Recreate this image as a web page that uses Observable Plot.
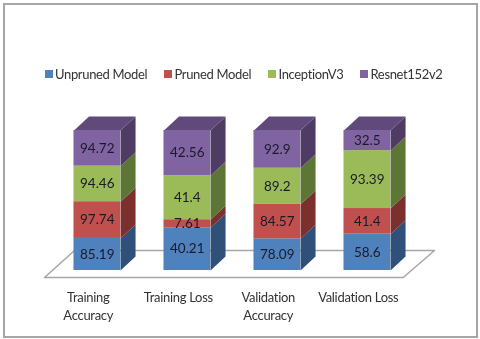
<!DOCTYPE html>
<html><head><meta charset="utf-8">
<script src="https://cdn.jsdelivr.net/npm/d3@7"></script>
<script src="https://cdn.jsdelivr.net/npm/@observablehq/plot@0.6"></script>
<style>
html,body{margin:0;padding:0;background:#fff}
#wrap{position:relative;width:480px;height:339px;overflow:hidden;filter:blur(0.45px)}
#frame{position:absolute;left:3px;top:3px;width:471px;height:331px;border:2px solid #a6a6a6;box-sizing:content-box;pointer-events:none}
#legend{position:absolute;left:0;top:64px;width:480px;height:20px;font:13px Lato,sans-serif;letter-spacing:-0.35px;color:#333}
#legend span{position:absolute;white-space:nowrap;line-height:20px}
#legend i{position:absolute;width:8px;height:8px;top:6px}
svg{display:block}
.cat text{letter-spacing:-0.3px}
</style></head><body>
<div id="wrap"><div id="chart"></div><div id="legend"></div><div id="frame"></div></div>
<script>
const categories = ["Training\nAccuracy","Training Loss","Validation\nAccuracy","Validation Loss"];
const series = ["Unpruned Model","Pruned Model","InceptionV3","Resnet152v2"];
const unpruned = [85.19,40.21,78.09,58.6];
const pruned = [97.74,7.61,84.57,41.4];
const inception = [94.46,41.4,89.2,93.39];
const resnet = [94.72,42.56,92.9,32.5];
const frontColors = ["#4f81bd","#c0504d","#9bbb59","#8064a2"];
const sideColors = ["#2f5078","#7b302e","#5d7535","#4e3c64"];
const topColors = ["#3d669a","#9b3f3c","#7d974a","#604a7b"];
const legendX = [44.5,164,268,360];

const values = [unpruned,pruned,inception,resnet];
const barW = 0.517, depthX = 0.167, depthY = 10;
const rects = [], polys = [], labels = [];
categories.forEach((c,i)=>{
  const total = d3.sum(values,v=>v[i]);
  let acc = 0;
  const left = i + (1-barW)/2, right = left + barW;
  values.forEach((v,s)=>{
    const y1 = acc/total*100; acc += v[i]; const y2 = acc/total*100;
    rects.push({x1:left,x2:right,y1,y2,fill:frontColors[s]});
    labels.push({x:(left+right)/2,y:(y1+y2)/2,text:String(v[i])});
    const id = `s${i}-${s}`;
    [[right,y1],[right+depthX,y1+depthY],[right+depthX,y2+depthY],[right,y2]]
      .forEach(([x,y])=>polys.push({id,x,y,fill:sideColors[s]}));
    if(s===values.length-1){
      const t = `t${i}`;
      [[left,y2],[right,y2],[right+depthX,y2+depthY],[left+depthX,y2+depthY]]
        .forEach(([x,y])=>polys.push({id:t,x,y,fill:topColors[s]}));
    }
  });
});
const floor = [[-0.086,-5],[3.9,-5],[4.247,14.3],[0.247,14.3]].map(([x,y])=>({x,y}));
const catLabels = categories.map((c,i)=>({x:i+0.5,y:-13,text:c}));

const chart = Plot.plot({
  width:480,height:339,margin:0,
  style:{background:"transparent"},
  x:{type:"linear",domain:[0,4],range:[51.75,411.75],axis:null},
  y:{type:"linear",domain:[0,100],range:[270,130],axis:null},
  marks:[
    Plot.line(floor,{x:"x",y:"y",curve:"linear-closed",stroke:"#a6a6a6",strokeWidth:1.5,fill:"#fff"}),
    Plot.line(polys,{x:"x",y:"y",z:"id",curve:"linear-closed",fill:"fill",stroke:"none"}),
    Plot.rect(rects,{x1:"x1",x2:"x2",y1:"y1",y2:"y2",fill:"fill"}),
    Plot.text(labels,{x:"x",y:"y",text:"text",fontSize:13.5,fontFamily:"Lato",fill:"#1a1a2a"}),
    Plot.text(catLabels,{x:"x",y:"y",text:"text",className:"cat",dx:-9,lineAnchor:"top",lineHeight:1.42,fontSize:13,fontFamily:"Lato",fill:"#333"})
  ]
});
document.getElementById("chart").append(chart);
const lg = document.getElementById("legend");
series.forEach((s,i)=>{
  const sw = document.createElement("i"); sw.style.left = legendX[i]+"px"; sw.style.background = frontColors[i];
  const t = document.createElement("span"); t.style.left = (legendX[i]+10.5)+"px"; t.textContent = s;
  lg.append(sw,t);
});
</script>
</body></html>
